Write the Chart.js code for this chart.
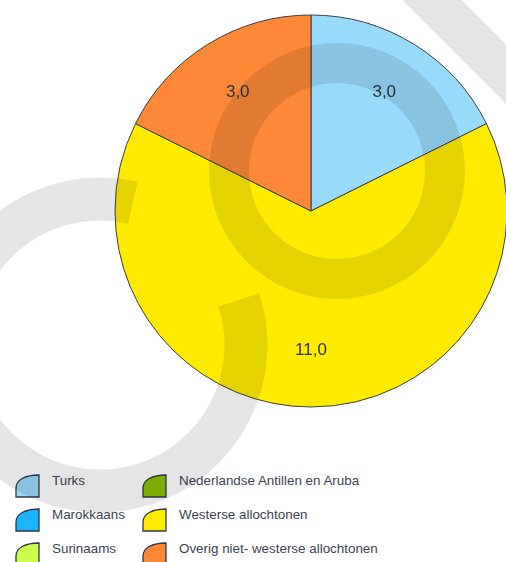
<!DOCTYPE html>
<html>
<head>
<meta charset="utf-8">
<script src="https://cdn.jsdelivr.net/npm/chart.js@4/dist/chart.umd.min.js"></script>
<style>
  body { margin: 0; background: #fff; width: 506px; height: 562px; overflow: hidden; position: relative; font-family: "Liberation Sans", Arial, sans-serif; }
  #pieChart { position: absolute; left: 0; top: 0; z-index: 2; pointer-events: none; }
  .item { position: absolute; font-size: 13.4px; line-height: 16px; color: #3d4451; white-space: nowrap; }
  .icon { position: absolute; width: 25px; height: 24px; }
</style>
</head>
<body>
<div id="legend"></div>
<canvas id="pieChart" width="506" height="562"></canvas>
<script>
// groups (same order as the slices, clockwise from the top)
const labels = ["Turks", "Marokkaans", "Surinaams", "Nederlandse Antillen en Aruba", "Westerse allochtonen", "Overig niet- westerse allochtonen"];
const values = [3.0, 0, 0, 0, 11.0, 3.0];
const colors = ["#99DAFA", "#1DB3FF", "#CCFF4D", "#8DC000", "#FFEB00", "#FD8838"];

// legend: two columns, three rows
const legendEl = document.getElementById("legend");
labels.forEach((lab, i) => {
  const col = Math.floor(i / 3), row = i % 3;
  const cy = 482 + row * 34;
  const iconX = col === 0 ? 15 : 142;
  const textX = col === 0 ? 52 : 179;
  const icon = document.createElementNS("http://www.w3.org/2000/svg", "svg");
  icon.setAttribute("class", "icon");
  icon.setAttribute("viewBox", "0 0 25 24");
  icon.style.left = iconX + "px";
  icon.style.top = (cy - 8) + "px";
  icon.innerHTML = '<path d="M1,23 V14 C1,6 10,1 24,1 V23 Z" fill="' + colors[i] + '" stroke="#2c3a4a" stroke-width="1.3"/>';
  legendEl.appendChild(icon);
  const t = document.createElement("div");
  t.className = "item";
  t.textContent = lab;
  t.style.left = textX + "px";
  t.style.top = (cy - 9) + "px";
  legendEl.appendChild(t);
});

// value labels inside the slices
const sliceLabels = {
  id: "sliceLabels",
  afterDatasetsDraw(chart) {
    const ctx = chart.ctx;
    const meta = chart.getDatasetMeta(0);
    ctx.save();
    ctx.font = '17px "Liberation Sans", Arial, sans-serif';
    ctx.fillStyle = "#2b3540";
    ctx.textAlign = "center";
    ctx.textBaseline = "middle";
    meta.data.forEach((arc, i) => {
      const v = chart.data.datasets[0].data[i];
      if (!v) return;
      const p = arc.getProps(["x", "y", "startAngle", "endAngle", "outerRadius"], true);
      const mid = (p.startAngle + p.endAngle) / 2;
      const r = p.outerRadius * 0.71;
      ctx.fillText(v.toFixed(1).replace(".", ","), p.x + Math.cos(mid) * r, p.y + Math.sin(mid) * r);
    });
    ctx.restore();
  }
};

// grey watermark lying over the whole picture
const watermark = {
  id: "watermark",
  afterDraw(chart) {
    const ctx = chart.ctx;
    ctx.save();
    ctx.strokeStyle = "rgba(0,0,0,0.1)";
    ctx.lineCap = "butt";
    ctx.lineWidth = 40;
    ctx.beginPath();
    ctx.arc(337, 171, 108, 0, Math.PI * 2);
    ctx.stroke();
    ctx.lineWidth = 43;
    ctx.beginPath();
    ctx.arc(100, 345, 146, -18 * Math.PI / 180, 283 * Math.PI / 180);
    ctx.stroke();
    ctx.lineWidth = 42;
    ctx.beginPath();
    ctx.moveTo(400, -32);
    ctx.lineTo(545, 113);
    ctx.stroke();
    ctx.restore();
  }
};

new Chart(document.getElementById("pieChart"), {
  type: "pie",
  data: {
    labels,
    datasets: [{ data: values, backgroundColor: colors, borderColor: "#3a3f46", borderWidth: 1 }]
  },
  options: {
    responsive: false,
    animation: false,
    radius: 196,
    layout: { padding: { left: 116, right: 0, top: 15, bottom: 155 } },
    plugins: { legend: { display: false }, tooltip: { enabled: false } }
  },
  plugins: [sliceLabels, watermark]
});
</script>
</body>
</html>
